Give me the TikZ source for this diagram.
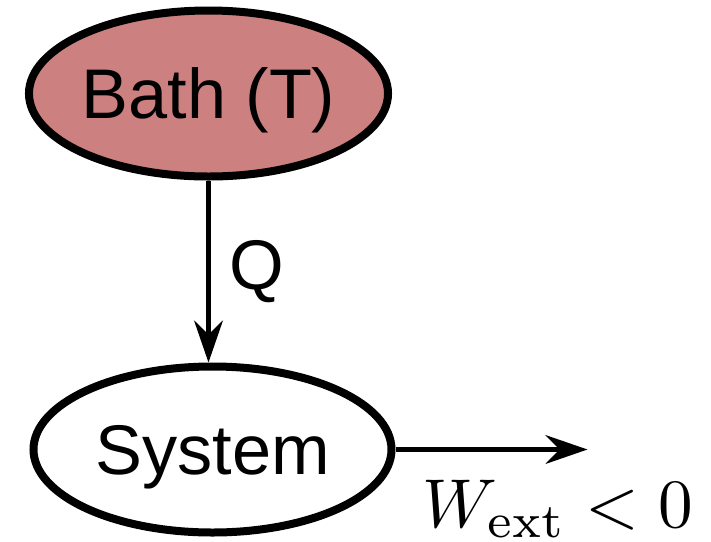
\documentclass[tikz,border=0pt]{standalone}
\usepackage[no-math]{fontspec}
\setmainfont{Liberation Sans}
\usetikzlibrary{shapes.geometric, arrows.meta}
\definecolor{bathred}{RGB}{205,128,128}
\tikzstyle{reservoir} = [ellipse, minimum width=8.95cm, minimum height=4.15cm, inner sep=0pt, text depth=0pt, draw=black, line width=0.2cm, fill=bathred, font=\fontsize{50}{60}\selectfont]
\tikzstyle{body} = [ellipse, minimum width=8.95cm, minimum height=4.15cm, inner sep=0pt, text depth=0pt, draw=black, line width=0.2cm, fill=white, font=\fontsize{50}{60}\selectfont]
\tikzstyle{arrow} = [line width=0.11cm, -{Stealth[length=1.05cm, width=0.72cm, inset=0.35cm]}]
\tikzstyle{tag} = [inner sep=0pt, font=\fontsize{50}{60}\selectfont]

\begin{document}
\begin{tikzpicture}[node distance=8.9cm]
\useasboundingbox (-5.2125,-11.1875) rectangle (12.5625,2.3375);

% Nodes
\node (bath) [reservoir] {Bath (T)};
\node (system) [body, below of=bath, xshift=0.1cm] {System};
\coordinate (out) at ([xshift=4.8cm]system.east);
\node (work) [inner sep=0pt, anchor=base west] at ([xshift=0.66cm, yshift=-1.94cm]system.east) {\scalebox{4.92}{$W_{\mathrm{ext}} < 0$}};

% Arrows
\draw [arrow] (bath.south) -- (bath.south |- system.north) node (heat) [tag, midway, anchor=west, xshift=0.48cm] {Q};
\draw [arrow] (system.east) -- (out);

\end{tikzpicture}
\end{document}
